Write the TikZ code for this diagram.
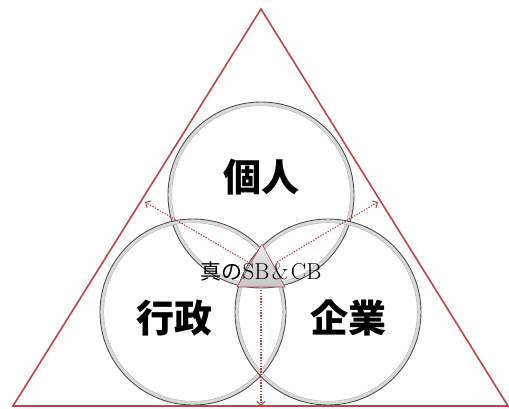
\documentclass[tikz,border=0pt]{standalone}
\usepackage{fontspec}
\newfontfamily\cjk{Noto Sans CJK JP}
\usetikzlibrary{arrows.meta}
\definecolor{tri}{RGB}{185,70,72}
\tikzset{
  ring/.style={circle, minimum size=186pt, inner sep=0pt, draw=black!70, line width=0.9pt},
  biglabel/.style={font=\cjk\bfseries\fontsize{38}{40}\selectfont, inner sep=0pt},
  dotarrow/.style={draw=tri, line width=1.1pt, dash pattern=on 1.4pt off 1.4pt, -{Straight Barb[length=4pt,width=8pt,line width=1pt]}},
}
\begin{document}
\begin{tikzpicture}[x=1pt,y=-1pt]
\useasboundingbox (0,0) rectangle (509,408);
% big triangle
\coordinate (A) at (261,9);
\coordinate (B) at (13,406);
\coordinate (C) at (508,406);
\draw[tri, line width=1.6pt, line join=miter] (A) -- (B) -- (C) -- cycle;
% circles
\foreach \n/\x/\y in {top/261/195, left/193/312, right/328/312}{
  \draw[gray!30, line width=3pt] (\x,\y) circle (91pt);
  \draw[gray!60, line width=0.5pt] (\x,\y) circle (89.3pt);
  \node[ring] (\n) at (\x,\y) {};
}
% centre triangle
\coordinate (P) at (262,244);
\coordinate (Q) at (237,287);
\coordinate (R) at (285,287);
\shade[top color=gray!15, bottom color=gray!45, draw=tri, line width=0.6pt] (P) -- (Q) -- (R) -- cycle;
% dotted arrows
\coordinate (s1) at (248,262);
\coordinate (e1) at (145,202);
\coordinate (s2) at (277,262);
\coordinate (e2) at (378,202);
\coordinate (s3) at (261,290);
\coordinate (e3) at (261,406);
\draw[dotarrow] (s1) -- (e1);
\draw[dotarrow] (s2) -- (e2);
\draw[dotarrow] (s3) -- (e3);
% labels
\node[biglabel] (l1) at (261,177) {個人};
\node[biglabel] (l2) at (174,318) {行政};
\node[biglabel] (l3) at (348,318) {企業};
\node[inner sep=0pt] (mid) at (261,272) {{\cjk\fontsize{21}{22}\selectfont 真の}{\fontsize{23}{24}\selectfont SB\hspace{2.5pt}\&\hspace{2.5pt}CB}};
\end{tikzpicture}
\end{document}
